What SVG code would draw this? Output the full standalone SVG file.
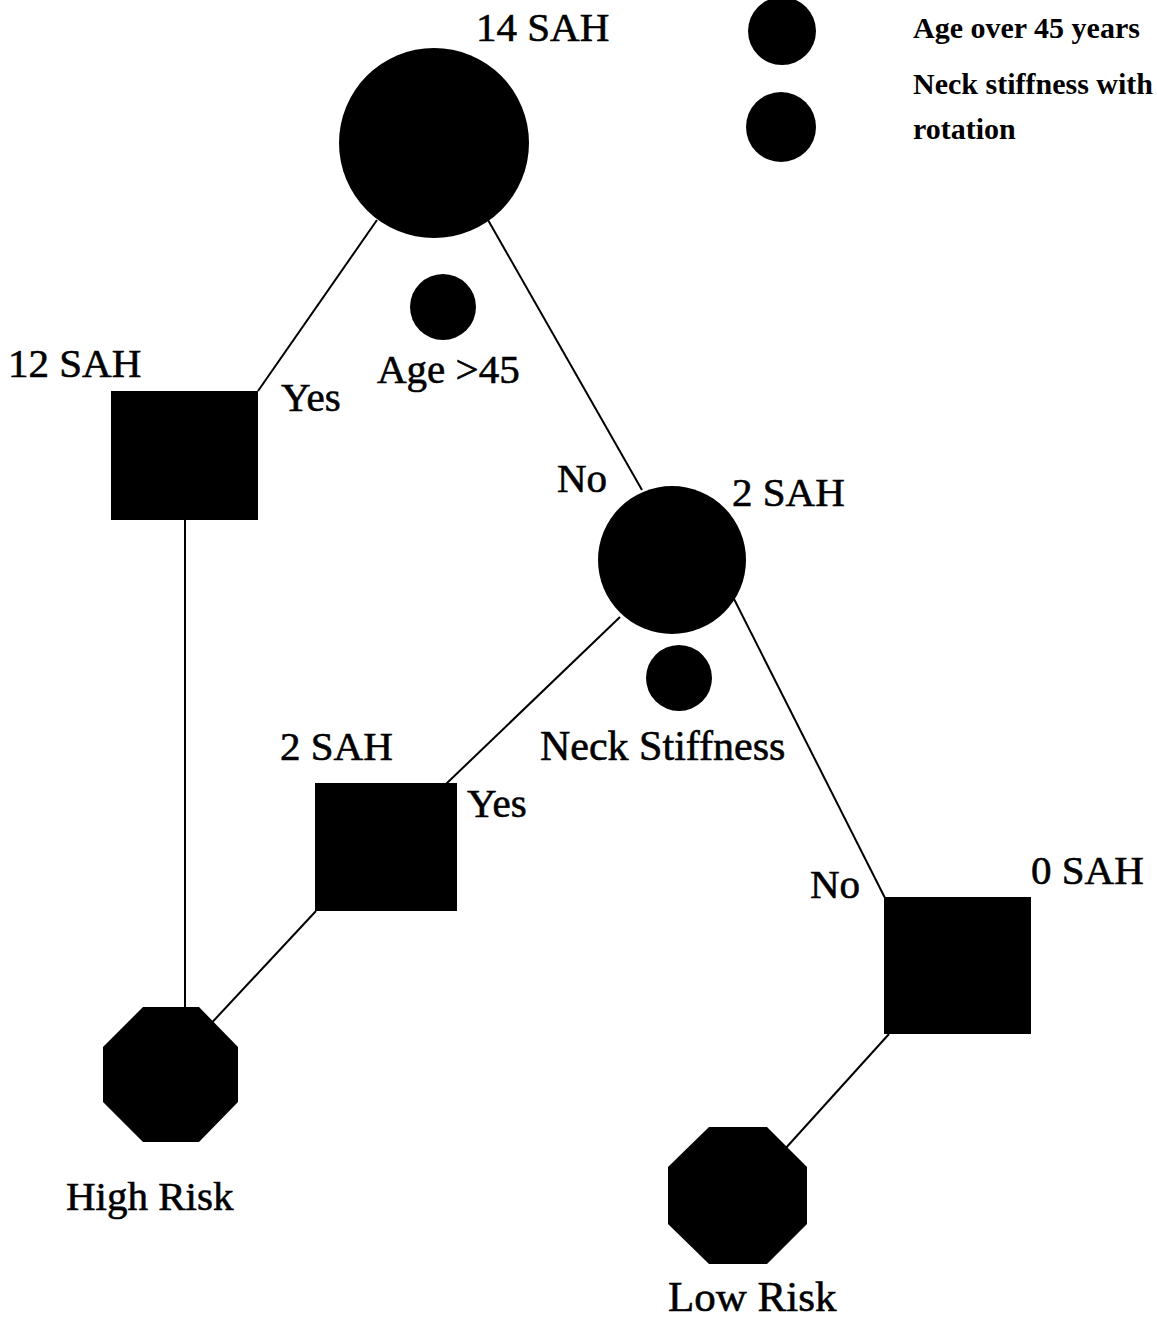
<svg xmlns="http://www.w3.org/2000/svg" width="1157" height="1320" viewBox="0 0 1157 1320">
<style>
.lbl{font-family:"Liberation Serif","Times New Roman",serif;font-size:41px;fill:#000;stroke:#000;stroke-width:0.6}
.leg{font-family:"Liberation Serif","Times New Roman",serif;font-size:30px;font-weight:bold;fill:#000}
.edge{stroke:#000;stroke-width:2;fill:none}
.shape{fill:#000}
</style>
<rect width="1157" height="1320" fill="#fff"/>
<g id="connectors">
<line class="edge" x1="377" y1="220" x2="258" y2="391"/>
<line class="edge" x1="488" y1="220" x2="642" y2="490"/>
<line class="edge" x1="185" y1="520" x2="185" y2="1040"/>
<line class="edge" x1="620" y1="617" x2="446" y2="784"/>
<line class="edge" x1="733" y1="597" x2="885" y2="898"/>
<line class="edge" x1="316" y1="911" x2="205" y2="1030"/>
<line class="edge" x1="889" y1="1034" x2="775" y2="1160"/>
</g>
<g id="legend-age">
<circle class="shape" cx="782" cy="31" r="34"/>
<text class="leg" x="913" y="38">Age over 45 years</text>
</g>
<g id="legend-neck">
<circle class="shape" cx="781" cy="127" r="35"/>
<text class="leg" x="913" y="94">Neck stiffness with</text>
<text class="leg" x="913" y="139">rotation</text>
</g>
<g id="root">
<circle class="shape" cx="434" cy="143" r="95"/>
<text class="lbl" x="476" y="41">14 SAH</text>
</g>
<g id="cond-age">
<circle class="shape" cx="443" cy="307" r="33"/>
<text class="lbl" x="377" y="383">Age &gt;45</text>
</g>
<g id="yes-12">
<rect class="shape" x="111" y="391" width="147" height="129"/>
<text class="lbl" x="8" y="377">12 SAH</text>
<text class="lbl" x="281" y="411">Yes</text>
</g>
<g id="no-2">
<circle class="shape" cx="672" cy="560" r="74"/>
<text class="lbl" x="557" y="492">No</text>
<text class="lbl" x="732" y="506">2 SAH</text>
</g>
<g id="cond-neck">
<circle class="shape" cx="679" cy="678" r="33"/>
<text class="lbl" x="540" y="760" style="font-size:42px">Neck Stiffness</text>
</g>
<g id="yes-2">
<rect class="shape" x="315" y="783" width="142" height="128"/>
<text class="lbl" x="280" y="760">2 SAH</text>
<text class="lbl" x="467" y="817">Yes</text>
</g>
<g id="no-0">
<rect class="shape" x="884" y="897" width="147" height="137"/>
<text class="lbl" x="810" y="898">No</text>
<text class="lbl" x="1031" y="884">0 SAH</text>
</g>
<g id="high-risk">
<polygon class="shape" points="143,1007 199,1007 238,1047 238,1102 199,1142 143,1142 103,1102 103,1047"/>
<text class="lbl" x="66" y="1210">High Risk</text>
</g>
<g id="low-risk">
<polygon class="shape" points="709,1127 767,1127 807,1167 807,1224 767,1264 709,1264 668,1224 668,1167"/>
<text class="lbl" x="668" y="1311" style="font-size:43px">Low Risk</text>
</g>
</svg>
